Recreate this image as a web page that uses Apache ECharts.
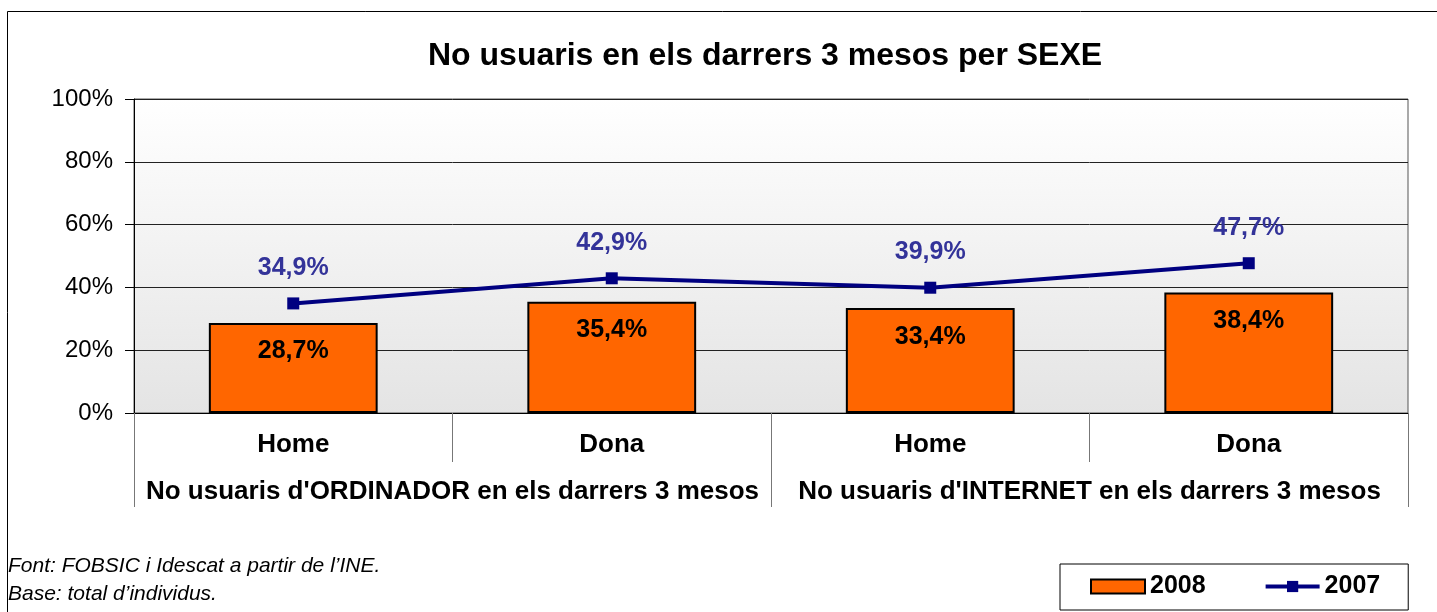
<!DOCTYPE html>
<html>
<head>
<meta charset="utf-8">
<script src="https://cdn.jsdelivr.net/npm/echarts@6/dist/echarts.min.js"></script>
<style>
html,body{margin:0;padding:0;background:#fff;}
#chart{width:1437px;height:612px;}
</style>
</head>
<body>
<div id="chart"></div>
<script>
var categories = ['Home', 'Dona', 'Home', 'Dona'];
var groups = ["No usuaris d'ORDINADOR en els darrers 3 mesos", "No usuaris d'INTERNET en els darrers 3 mesos"];
var values2008 = [28.7, 35.4, 33.4, 38.4];
var values2007 = [34.9, 42.9, 39.9, 47.7];
var footnotes = ['Font: FOBSIC i Idescat a partir de l\u2019INE.', 'Base: total d\u2019individus.'];

var font = '"Liberation Sans", Arial, sans-serif';
function pct(v){ return v.toFixed(1).replace('.', ',') + '%'; }

var chart = echarts.init(document.getElementById('chart'));
chart.setOption({
  animation:false,
  textStyle:{fontFamily:font},
  title:{
    text:'No usuaris en els darrers 3 mesos per SEXE',
    left:423, top:35,
    textStyle:{fontFamily:font, fontSize:32, fontWeight:'bold', color:'#000'}
  },
  graphic:[
    {type:'rect', shape:{x:7.5, y:11.5, width:1440, height:620}, style:{fill:null, stroke:'#000', lineWidth:1}, z:-1},
    {type:'text', left:8, top:556, style:{text:footnotes[0], font:'italic 21px ' + font, fill:'#000'}},
    {type:'text', left:8, top:584, style:{text:footnotes[1], font:'italic 21px ' + font, fill:'#000'}}
  ],
  legend:{
    left:1060, top:564,
    padding:[10, 28, 11, 30],
    borderColor:'#000', borderWidth:1,
    itemWidth:54, itemHeight:14, itemGap:58,
    textStyle:{fontFamily:font, fontSize:25, fontWeight:'bold', color:'#000'},
    data:[
      {name:'2008', icon:'rect'},
      {name:'2007', lineStyle:{width:4, color:'#000080'}}
    ]
  },
  grid:{
    left:134, right:29, top:99, bottom:199,
    show:true,
    borderColor:'#555', borderWidth:1,
    backgroundColor:new echarts.graphic.LinearGradient(0, 0, 0, 1, [
      {offset:0, color:'#ffffff'},
      {offset:1, color:'#e4e4e4'}
    ])
  },
  xAxis:[
    {
      type:'category', data:categories, position:'bottom', offset:0,
      axisLine:{show:true, lineStyle:{color:'#000', width:1}},
      axisTick:{show:true, interval:0, length:49, lineStyle:{color:'#777'}},
      axisLabel:{interval:0, margin:19, fontSize:26, fontWeight:'bold', color:'#000', fontFamily:font}
    },
    {
      type:'category', data:groups, position:'bottom', offset:0,
      axisLine:{show:false},
      axisTick:{show:true, interval:0, length:94, lineStyle:{color:'#777'}},
      axisLabel:{interval:0, margin:66, fontSize:26, fontWeight:'bold', color:'#000', fontFamily:font}
    }
  ],
  yAxis:{
    type:'value', min:0, max:100, interval:20,
    axisLine:{show:true, lineStyle:{color:'#000'}},
    axisTick:{show:true, length:9, lineStyle:{color:'#000'}},
    splitLine:{show:true, lineStyle:{color:'#222', width:1}},
    axisLabel:{margin:21, fontSize:24, color:'#000', fontFamily:font, formatter:'{value}%'}
  },
  series:[
    {
      name:'2008', type:'bar', data:values2008, barWidth:'53%',
      itemStyle:{color:'#FF6600', borderColor:'#000', borderWidth:2},
      label:{show:true, position:'insideTop', distance:16, fontSize:25, fontWeight:'bold', color:'#000', fontFamily:font,
        formatter:function(p){ return pct(p.value); }}
    },
    {
      name:'2007', type:'line', data:values2007,
      symbol:'rect', symbolSize:12,
      lineStyle:{color:'#000080', width:4},
      itemStyle:{color:'#000080'},
      label:{show:true, position:'top', distance:17, fontSize:25, fontWeight:'bold', color:'#333399', fontFamily:font,
        formatter:function(p){ return pct(p.value); }}
    }
  ]
});
</script>
</body>
</html>
